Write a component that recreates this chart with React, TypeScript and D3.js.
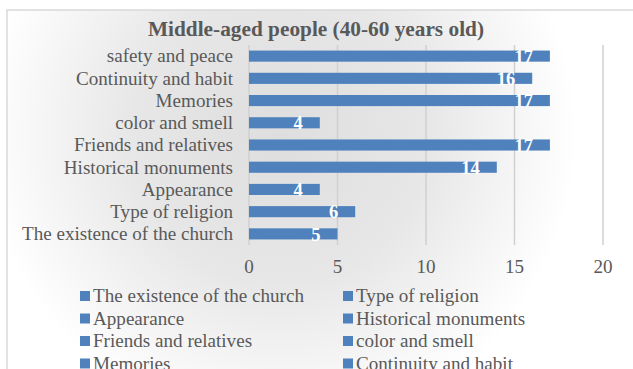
import React from "react";
import * as d3 from "d3";

const categories = [
  "The existence of the church",
  "Type of religion",
  "Appearance",
  "Historical monuments",
  "Friends and relatives",
  "color and smell",
  "Memories",
  "Continuity and habit",
  "safety and peace",
];
const values = [5, 6, 4, 14, 17, 4, 17, 16, 17];
const xTicks = [0, 5, 10, 15, 20];
const title = "Middle-aged people (40-60 years old)";

const W = 633;
const H = 369;
const FONT = "Liberation Serif";
const BLUE = "#4f81bd";
const TXT = "#595959";
const FS = 19.1;

export default function App() {
  const left = 249, right = 603, top = 45, bottom = 245;
  const x = d3.scaleLinear().domain([0, 20]).range([left, right]);
  const y = d3
    .scaleBand<string>()
    .domain([...categories].reverse())
    .range([top, bottom])
    .paddingInner(0.5)
    .paddingOuter(0.25);

  const ts = { fontFamily: FONT };
  return (
    <svg
      width={W}
      height={H}
      style={{ position: "absolute", left: 0, top: 0 }}
    >
      <defs>
        <radialGradient id="bg" cx="280" cy="135" r="330" gradientUnits="userSpaceOnUse">
          <stop offset="0" stopColor="#dedede" />
          <stop offset="0.45" stopColor="#e7e7e7" />
          <stop offset="0.9" stopColor="#ffffff" />
          <stop offset="1" stopColor="#ffffff" />
        </radialGradient>
      </defs>
      <rect x={0} y={0} width={W} height={H} fill="#ffffff" />
      <rect x={7} y={10} width={W} height={H} fill="url(#bg)" stroke="#d9d9d9" strokeWidth={1.5} />
      <text x={316} y={36} textAnchor="middle" fontSize={21.3} fontWeight="bold" fill={TXT} style={ts}>
        {title}
      </text>
      {xTicks.map((t) => (
        <g key={t}>
          <line x1={x(t)} x2={x(t)} y1={top} y2={bottom} stroke="#d0d0d0" strokeWidth={1.5} />
          <text x={x(t)} y={273} textAnchor="middle" fontSize={FS} fill={TXT} style={ts}>
            {t}
          </text>
        </g>
      ))}
      {categories.map((c, i) => {
        const yy = y(c)!;
        const bh = y.bandwidth();
        return (
          <g key={c}>
            <rect x={x(0)} y={yy} width={x(values[i]) - x(0)} height={bh} fill={BLUE} />
            <text
              x={233}
              y={yy + bh / 2}
              dy="0.33em"
              textAnchor="end"
              fontSize={FS}
              fill={TXT}
              style={ts}
            >
              {c}
            </text>
            <text
              x={x(values[i]) - 17}
              y={yy + bh / 2}
              dy="0.36em"
              textAnchor="end"
              fontSize={18.5}
              fontWeight="bold"
              fill="#ffffff"
              style={ts}
            >
              {values[i]}
            </text>
          </g>
        );
      })}
      {categories.map((c, i) => {
        const col = i % 2;
        const row = Math.floor(i / 2);
        const lx = col === 0 ? 80 : 343;
        const ly = 296 + row * 22.5;
        return (
          <g key={"l" + c}>
            <rect x={lx} y={ly - 5} width={10} height={10} fill={BLUE} />
            <text x={lx + 13} y={ly} dy="0.33em" fontSize={FS} fill={TXT} style={ts}>
              {c}
            </text>
          </g>
        );
      })}
    </svg>
  );
}
